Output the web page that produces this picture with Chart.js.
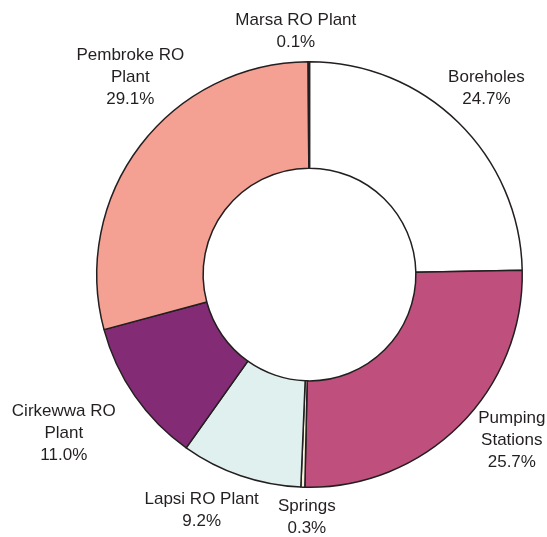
<!DOCTYPE html>
<html>
<head>
<meta charset="utf-8">
<script src="https://cdn.jsdelivr.net/npm/chart.js@4"></script>
<style>
html,body{margin:0;padding:0;background:#fff;}
#wrap{width:547px;height:537px;position:relative;}
</style>
</head>
<body>
<div id="wrap"><canvas id="c" width="547" height="537"></canvas></div>
<script>
const categories = ["Boreholes", "Pumping Stations", "Springs", "Lapsi RO Plant", "Cirkewwa RO Plant", "Pembroke RO Plant", "Marsa RO Plant"];
const shares = [24.7, 25.7, 0.3, 9.2, 11.0, 29.1, 0.1];
const labelLines = [
  ["Boreholes", "24.7%"],
  ["Pumping", "Stations", "25.7%"],
  ["Springs", "0.3%"],
  ["Lapsi RO Plant", "9.2%"],
  ["Cirkewwa RO", "Plant", "11.0%"],
  ["Pembroke RO", "Plant", "29.1%"],
  ["Marsa RO Plant", "0.1%"]
];
const colors = ["#ffffff", "#bf4f7c", "#f6f2da", "#e0f0ee", "#842b76", "#f4a093", "#ffffff"];

const labelOffsets = [[28,-34],[52,15],[4,30],[-39,35],[-71,37],[-10,-68],[-13,-30]];

const outsideLabels = {
  id: 'outsideLabels',
  afterDraw(chart) {
    const ctx = chart.ctx;
    const meta = chart.getDatasetMeta(0);
    ctx.save();
    ctx.font = '17px "Liberation Sans", Arial, sans-serif';
    ctx.fillStyle = '#231f20';
    ctx.textAlign = 'center';
    ctx.textBaseline = 'middle';
    const lh = 22;
    meta.data.forEach((arc, i) => {
      const p = arc.getProps(['x','y','startAngle','endAngle','outerRadius'], true);
      const mid = (p.startAngle + p.endAngle) / 2;
      const ax = p.x + Math.cos(mid) * p.outerRadius + labelOffsets[i][0];
      const ay = p.y + Math.sin(mid) * p.outerRadius + labelOffsets[i][1];
      const lines = labelLines[i];
      const y0 = ay - (lines.length - 1) * lh / 2;
      lines.forEach((t, k) => ctx.fillText(t, ax, y0 + k * lh));
    });
    ctx.restore();
  }
};

new Chart(document.getElementById('c'), {
  type: 'doughnut',
  data: {
    labels: categories,
    datasets: [{
      data: shares,
      backgroundColor: colors,
      borderColor: '#231f20',
      borderWidth: 1.5,
      borderAlign: 'center'
    }]
  },
  options: {
    responsive: false,
    animation: false,
    cutout: '50%',
    layout: { padding: { left: 96, right: 24, top: 61, bottom: 49 } },
    plugins: { legend: { display: false }, tooltip: { enabled: false } }
  },
  plugins: [outsideLabels]
});
</script>
</body>
</html>
